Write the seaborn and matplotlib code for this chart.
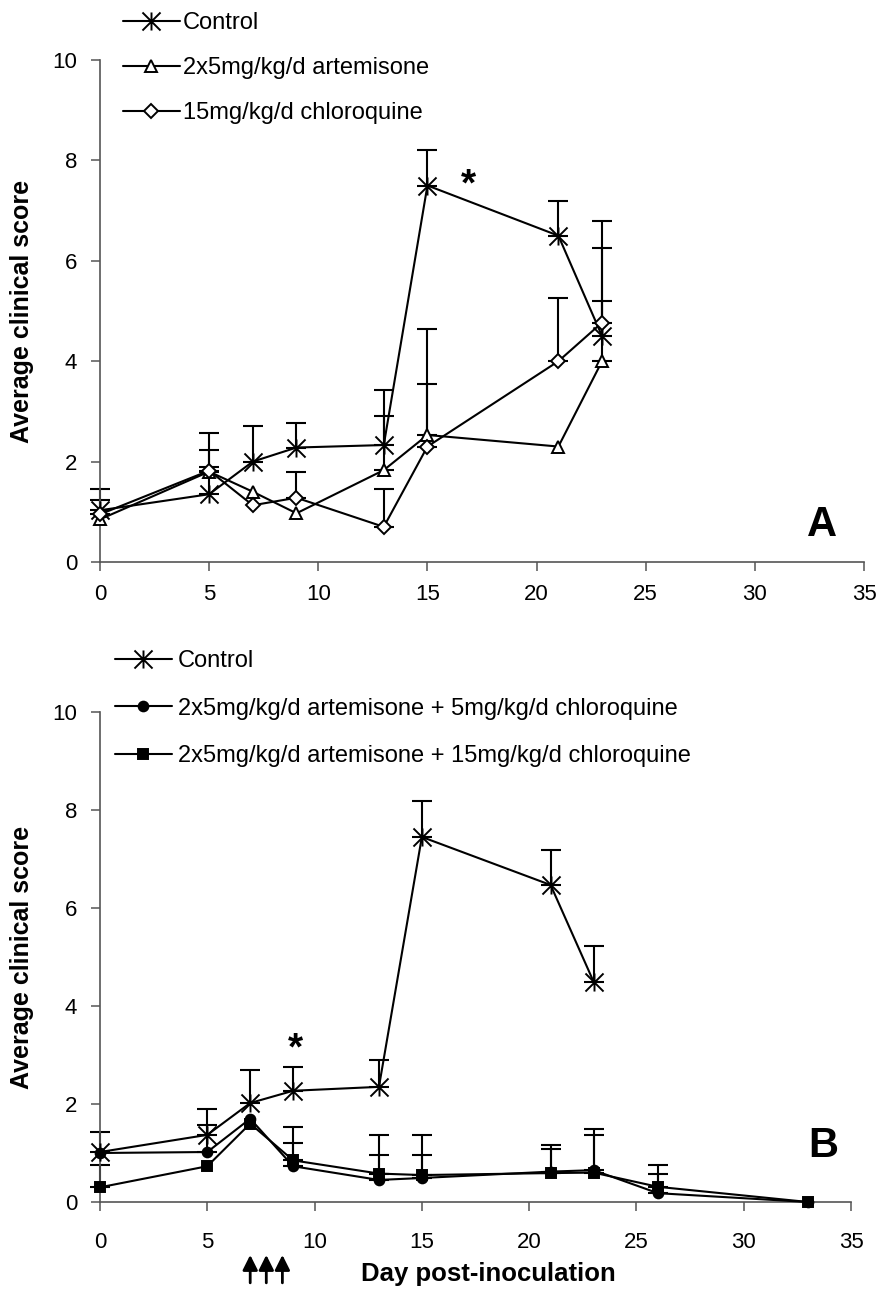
import numpy as np
import pandas as pd
import matplotlib
matplotlib.use('Agg')
import matplotlib.pyplot as plt
from matplotlib.path import Path
import seaborn as sns

# ---- data ----
days_a = [0, 5, 7, 9, 13, 15, 21, 23]
ctrl_a = [1.03, 1.35, 2.0, 2.28, 2.33, 7.5, 6.5, 4.5]
ctrl_a_err = [0.42, 0.55, 0.7, 0.49, 0.57, 0.7, 0.7, 0.7]
art_a = [0.85, 1.8, 1.4, 0.97, 1.83, 2.53, 2.3, 4.0]
art_a_err = [np.nan, 0.77, np.nan, np.nan, 1.59, 1.02, np.nan, 2.25]
cq_a = [0.95, 1.82, 1.13, 1.28, 0.7, 2.3, 4.0, 4.77]
cq_a_err = [0.28, 0.41, np.nan, 0.52, 0.75, 2.35, 1.25, 2.03]

days_b_ctrl = [0, 5, 7, 9, 13, 15, 21, 23]
ctrl_b = [1.02, 1.37, 2.02, 2.27, 2.35, 7.45, 6.47, 4.5]
ctrl_b_err = [0.41, 0.53, 0.68, 0.48, 0.55, 0.74, 0.71, 0.73]
days_b = [0, 5, 7, 9, 13, 15, 21, 23, 26, 33]
combo5_b = [1.0, 1.02, 1.7, 0.73, 0.45, 0.49, 0.62, 0.65, 0.18, 0.0]
combo5_b_err = [np.nan, 0.55, np.nan, 0.47, 0.51, 0.47, 0.46, 0.72, 0.39, np.nan]
combo15_b = [0.3, 0.73, 1.6, 0.85, 0.58, 0.55, 0.59, 0.6, 0.31, 0.0]
combo15_b_err = [0.46, np.nan, np.nan, 0.68, 0.79, 0.82, 0.57, 0.89, 0.44, np.nan]

arrow_days = [7, 7.75, 8.5]
x_ticks = [0, 5, 10, 15, 20, 25, 30, 35]
y_ticks = [0, 2, 4, 6, 8, 10]

sns.set_style('ticks')
plt.rcParams['font.family'] = ['Liberation Sans', 'DejaVu Sans']
plt.rcParams['text.color'] = 'black'
plt.rcParams['axes.labelcolor'] = 'black'

# excel style asterisk: an X with a vertical bar
star = Path([(-1, -1), (1, 1), (-1, 1), (1, -1), (0, -1), (0, 1)],
            [Path.MOVETO, Path.LINETO, Path.MOVETO, Path.LINETO, Path.MOVETO, Path.LINETO])


def draw_series(ax, x, y, err, marker, ms, face, label):
    d = pd.DataFrame({'day': x, 'score': y})
    sns.lineplot(x='day', y='score', data=d, ax=ax, color='black', lw=1.5,
                 marker=marker, markersize=ms, markerfacecolor=face,
                 markeredgecolor='black', markeredgewidth=1.4,
                 label=label, errorbar=None, clip_on=False, zorder=3)
    e = np.array(err, dtype=float)
    m = ~np.isnan(e)
    ax.errorbar(np.array(x)[m], np.array(y)[m], yerr=[np.zeros(m.sum()), e[m]],
                fmt='none', ecolor='black', elinewidth=1.5, capsize=7,
                capthick=1.5, zorder=2, clip_on=False)


def style_axis(ax, xpad):
    sns.despine(ax=ax)
    ax.set_xlim(0, 35)
    ax.set_ylim(0, 10)
    ax.set_xticks(x_ticks)
    ax.set_yticks(y_ticks)
    for s in ['left', 'bottom']:
        ax.spines[s].set_color('#555555')
        ax.spines[s].set_linewidth(1.2)
    ax.tick_params(axis='both', direction='out', length=6.5, width=1.1,
                   color='#555555', labelsize=16, labelcolor='black')
    ax.tick_params(axis='x', pad=xpad)
    ax.tick_params(axis='y', pad=10)
    ax.set_xlabel('')


fig = plt.figure(figsize=(8.78, 12.93), dpi=100)
ax_a = fig.add_axes([100 / 878, 1 - 562 / 1293, 764 / 878, 502 / 1293])
ax_b = fig.add_axes([100 / 878, 1 - 1202 / 1293, 751 / 878, 490 / 1293])

# panel A
draw_series(ax_a, days_a, ctrl_a, ctrl_a_err, star, 13, 'black', 'Control')
draw_series(ax_a, days_a, art_a, art_a_err, '^', 9, 'white', '2x5mg/kg/d artemisone')
draw_series(ax_a, days_a, cq_a, cq_a_err, 'D', 7, 'white', '15mg/kg/d chloroquine')
style_axis(ax_a, 9)
ax_a.set_ylabel('Average clinical score', fontsize=18, fontweight='bold')
ax_a.yaxis.set_label_coords(-0.0864, 0.5)
ax_a.text(16.86, 7.31, '*', fontsize=28, fontweight='bold', ha='center', va='baseline')
ax_a.text(0.945, 0.074, 'A', transform=ax_a.transAxes, fontsize=30,
          fontweight='bold', ha='center', va='center')
ax_a.legend(loc='upper left', bbox_to_anchor=(123 / 878, 1 - 12 / 1293),
            bbox_transform=fig.transFigure, frameon=False, fontsize=17,
            handlelength=2.4, handletextpad=0.13, borderpad=0, borderaxespad=0,
            labelspacing=0.97)

# panel B
draw_series(ax_b, days_b_ctrl, ctrl_b, ctrl_b_err, star, 13, 'black', 'Control')
draw_series(ax_b, days_b, combo5_b, combo5_b_err, 'o', 7, 'black',
            '2x5mg/kg/d artemisone + 5mg/kg/d chloroquine')
draw_series(ax_b, days_b, combo15_b, combo15_b_err, 's', 7, 'black',
            '2x5mg/kg/d artemisone + 15mg/kg/d chloroquine')
style_axis(ax_b, 15)
ax_b.set_ylabel('Average clinical score', fontsize=18, fontweight='bold')
ax_b.yaxis.set_label_coords(-0.0879, 0.5)
ax_b.set_xlabel('Day post-inoculation', fontsize=18.5, fontweight='bold')
ax_b.xaxis.set_label_coords(0.517, -0.122)
ax_b.text(9.13, 2.9, '*', fontsize=28, fontweight='bold', ha='center', va='baseline')
ax_b.text(0.963, 0.114, 'B', transform=ax_b.transAxes, fontsize=30,
          fontweight='bold', ha='center', va='center')
for d in arrow_days:
    ax_b.annotate('', xy=(d, -0.108), xytext=(d, -0.165),
                  xycoords=('data', 'axes fraction'), textcoords=('data', 'axes fraction'),
                  arrowprops=dict(arrowstyle='-|>,head_length=0.6,head_width=0.3',
                                  lw=2, color='black', shrinkA=0, shrinkB=0,
                                  mutation_scale=15))
ax_b.legend(loc='upper left', bbox_to_anchor=(115 / 878, 1 - 650 / 1293),
            bbox_transform=fig.transFigure, frameon=False, fontsize=17,
            handlelength=2.4, handletextpad=0.25, borderpad=0, borderaxespad=0,
            labelspacing=1.08)

fig.savefig('out.png', dpi=100)
